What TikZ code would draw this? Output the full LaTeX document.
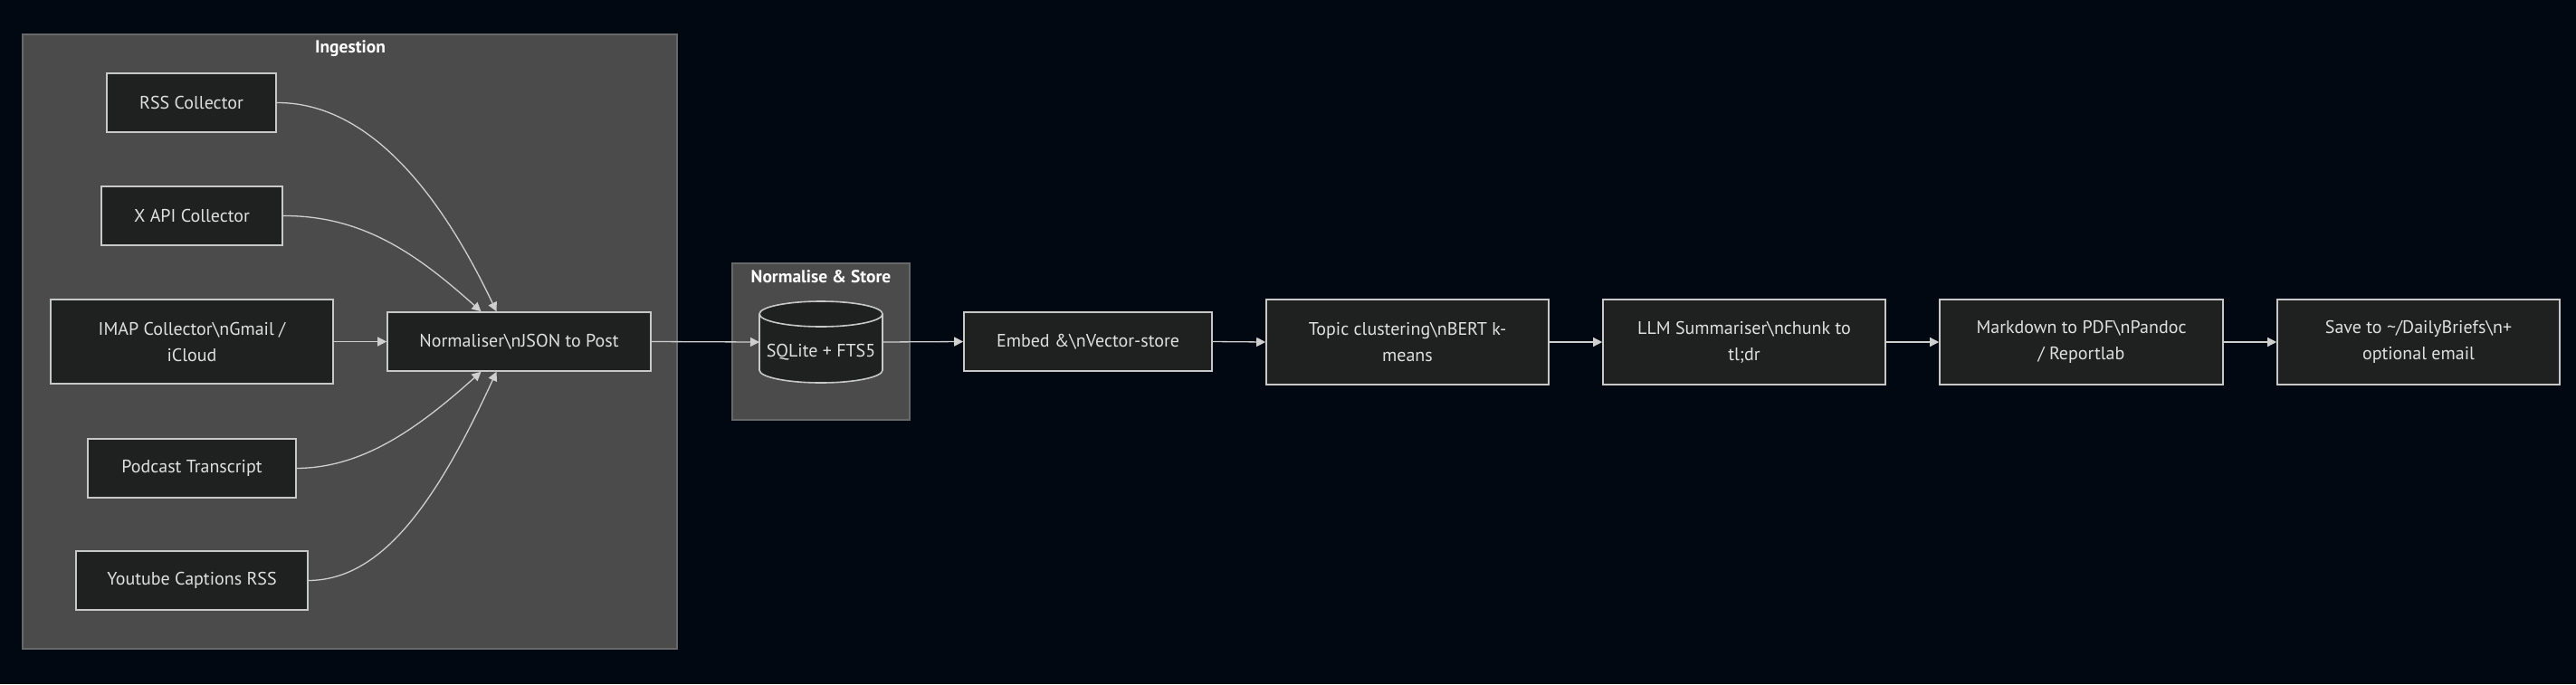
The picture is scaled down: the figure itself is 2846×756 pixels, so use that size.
\documentclass[tikz,border=0pt]{standalone}
\usepackage{fontspec}
\setmainfont{PT Sans}
\usetikzlibrary{arrows.meta}
\definecolor{bgc}{HTML}{020812}
\definecolor{clfill}{HTML}{4A4B4A}
\definecolor{cldraw}{HTML}{66686A}
\definecolor{ndfill}{HTML}{1F2020}
\definecolor{nddraw}{HTML}{C8C8C8}
\definecolor{edgec}{HTML}{CFCFCF}
\definecolor{txt}{HTML}{E0E0E0}
\tikzset{
  box/.style={draw=nddraw, fill=ndfill, line width=1.6pt, text=txt, align=center, inner sep=0pt,
    font=\fontsize{20}{29}\selectfont, minimum height=65pt},
  cluster/.style={draw=cldraw, fill=clfill, line width=1.4pt},
  cltitle/.style={text=white, font=\bfseries\fontsize{19.5}{24}\selectfont},
  edge/.style={draw=edgec, line width=1.3pt, -{Triangle[length=10pt,width=10pt]}},
}
\begin{document}
\begin{tikzpicture}[x=1pt,y=-1pt]
\fill[bgc] (0,0) rectangle (2846,756);
\useasboundingbox (0,0) rectangle (2846,756);
% clusters
\draw[cluster] (25,38) rectangle (748,717);
\node[cltitle] (tIng) at (387,54) {Ingestion};
\draw[cluster] (809,291) rectangle (1005,464);
\node[cltitle] (tSto) at (907,306) {Normalise \& Store};
% ingestion nodes
\node[box, minimum width=187pt] (rss) at (211.5,113.5) {RSS Collector};
\node[box, minimum width=200pt] (xapi) at (212,238.5) {X API Collector};
\node[box, minimum width=312pt, minimum height=93pt] (imap) at (212,377.5) {IMAP Collector\textbackslash nGmail /\\iCloud};
\node[box, minimum width=291pt] (norm) at (573.5,377.5) {Normaliser\textbackslash nJSON to Post};
\node[box, minimum width=230pt] (pod) at (212,517.5) {Podcast Transcript};
\node[box, minimum width=256pt] (yt) at (212,641.5) {Youtube Captions RSS};
% cylinder
\coordinate (cylW) at (839,378);
\coordinate (cylE) at (975,378);
\fill[ndfill] (839,347) rectangle (975,409);
\fill[ndfill] (907,347) ellipse[x radius=68,y radius=14];
\fill[ndfill] (907,409) ellipse[x radius=68,y radius=14];
\draw[nddraw, line width=1.6pt] (907,347) ellipse[x radius=68,y radius=14];
\draw[nddraw, line width=1.6pt] (839,347) -- (839,409) arc[start angle=180,end angle=0,x radius=68,y radius=14] -- (975,347);
\node[text=txt, font=\fontsize{20}{24}\selectfont] (db) at (907,389) {SQLite + FTS5};
% pipeline nodes
\node[box, minimum width=274pt] (emb) at (1202,377.5) {Embed \&\textbackslash nVector-store};
\node[box, minimum width=312pt, minimum height=94pt] (topic) at (1555,378) {Topic clustering\textbackslash nBERT k-\\means};
\node[box, minimum width=312pt, minimum height=94pt] (llm) at (1927,378) {LLM Summariser\textbackslash nchunk to\\tl;dr};
\node[box, minimum width=313pt, minimum height=94pt] (md) at (2299.5,378) {Markdown to PDF\textbackslash nPandoc\\/ Reportlab};
\node[box, minimum width=312pt, minimum height=94pt] (save) at (2672,378) {Save to \textasciitilde/DailyBriefs\textbackslash n+\\optional email};
% ingestion edges
\draw[edge] (rss.east) .. controls (400,113) and (480,200) .. ([xshift=-25pt]norm.north);
\draw[edge] (xapi.east) .. controls (400,238) and (460,280) .. ([xshift=-42pt]norm.north);
\draw[edge] (imap.east) -- (norm.west);
\draw[edge] (pod.east) .. controls (400,517) and (460,475) .. ([xshift=-42pt]norm.south);
\draw[edge] (yt.east) .. controls (420,641) and (480,560) .. ([xshift=-25pt]norm.south);
% pipeline edges
\draw[edge] (norm.east) -- (cylW);
\draw[edge] (cylE) -- (emb.west);
\draw[edge] (emb.east) -- (topic.west);
\draw[edge] (topic.east) -- (llm.west);
\draw[edge] (llm.east) -- (md.west);
\draw[edge] (md.east) -- (save.west);
\end{tikzpicture}
\end{document}
